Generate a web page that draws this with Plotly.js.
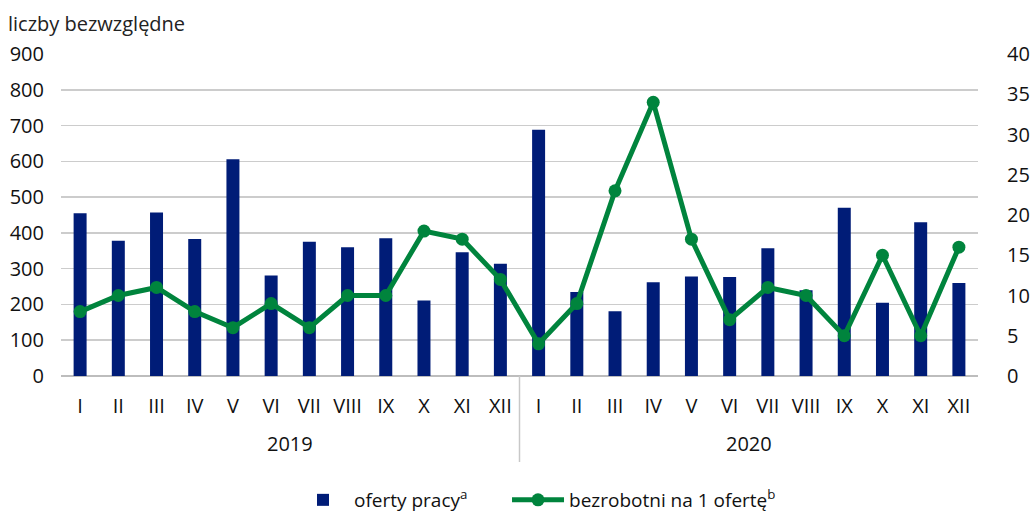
<!DOCTYPE html>
<html><head><meta charset="utf-8">
<script src="https://cdn.plot.ly/plotly-3.0.1.min.js"></script>
<style>body{margin:0;background:#fff}#chart{width:1035px;height:515px}</style>
</head><body><div id="chart"></div>
<script>
const months = ["I","II","III","IV","V","VI","VII","VIII","IX","X","XI","XII"];
const years = ["2019","2020"];
const ofertyPracy = [455,378,457,383,606,281,375,360,385,211,346,314,
                     688,235,181,262,278,277,357,240,470,205,430,260];
const bezrobotniNaOferte = [8,10,11,8,6,9,6,10,10,18,17,12,
                            4,9,23,34,17,7,11,10,5,15,5,16];

const labels = [];
years.forEach(y => months.forEach(m => labels.push(m)));
const idx = labels.map((_, i) => i);
const FONT = "Open Sans, Noto Sans, sans-serif";
const navy = "#001c77", green = "#00843d";
const pad = "\u00a0".repeat(7);

const traces = [
  {type:"bar", x: idx, y: ofertyPracy, name:"oferty pracy<sup>a</sup>" + pad,
   marker:{color:navy}, yaxis:"y", hoverinfo:"y"},
  {type:"scatter", mode:"lines+markers", x: idx, y: bezrobotniNaOferte,
   name:"bezrobotni na 1 ofertę<sup>b</sup>", yaxis:"y2",
   line:{color:green, width:5}, marker:{color:green, size:13}}
];

const py = p => (376 - p) / 322;
const annotations = [
  {xref:"paper", yref:"paper", x:-61/917 + 6/917, y:py(24), xanchor:"left", yanchor:"middle",
   text:"liczby bezwzględne", showarrow:false, font:{size:20, color:"#222"}}
];
years.forEach((y, k) => {
  annotations.push({xref:"x", yref:"paper", x: k*12 + 5.5, y:py(443), yanchor:"middle",
    text:y, showarrow:false, font:{size:20, color:"#111"}});
});

const layout = {
  width:1035, height:515,
  margin:{l:61, r:57, t:54, b:139},
  font:{family:FONT, size:20, color:"#111"},
  paper_bgcolor:"#fff", plot_bgcolor:"#fff",
  bargap:0.66,
  showlegend:true,
  legend:{orientation:"h", x:292/1035, xanchor:"left", xref:"container",
          y:(515-500)/515, yanchor:"middle", yref:"container", itemwidth:52,
          font:{size:19}, bgcolor:"rgba(0,0,0,0)"},
  xaxis:{tickmode:"array", tickvals: idx, ticktext: labels, range:[-0.5, 23.5],
         showgrid:false, zeroline:false, showline:false, ticks:"", ticklabelstandoff:16,
         tickfont:{size:20}, automargin:false},
  yaxis:{range:[0,900], dtick:100, gridcolor:"#cccccc", gridwidth:1.6,
         zeroline:true, zerolinecolor:"#bdbdbd", zerolinewidth:2, automargin:false,
         ticks:"", ticklabelstandoff:16, tickfont:{size:20}, showline:false},
  yaxis2:{range:[0,40], dtick:5, overlaying:"y", side:"right", showgrid:false, automargin:false,
          zeroline:false, ticks:"", ticklabelstandoff:28, tickfont:{size:20}, showline:false},
  shapes:[{type:"line", xref:"x", yref:"paper", x0:11.5, x1:11.5, y0:0, y1:py(462),
           line:{color:"#c8c8c8", width:1.5}}],
  annotations: annotations
};
Plotly.newPlot("chart", traces, layout, {displayModeBar:false, staticPlot:true});
</script></body></html>
